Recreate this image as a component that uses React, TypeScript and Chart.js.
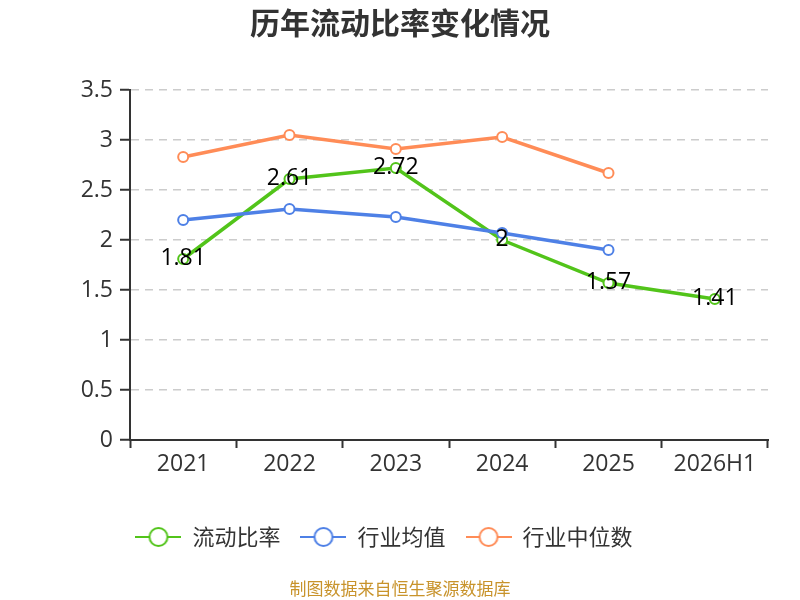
import React, { useEffect, useRef } from "react";
import { Chart, registerables } from "chart.js";

Chart.register(...registerables);

const categories = ["2021", "2022", "2023", "2024", "2025", "2026H1"];
const currentRatio = [1.81, 2.61, 2.72, 2, 1.57, 1.41];
const currentRatioLabels = ["1.81", "2.61", "2.72", "2", "1.57", "1.41"];
const industryMean = [2.2, 2.31, 2.23, 2.07, 1.9, null];
const industryMedian = [2.83, 3.05, 2.91, 3.03, 2.67, null];
const seriesNames = ["流动比率", "行业均值", "行业中位数"];
const seriesColors = ["#52C41A", "#4E80E6", "#FF8C57"];
const yTicks = { min: 0, max: 3.5, step: 0.5 };
const titleText = "历年流动比率变化情况";
const footerText = "制图数据来自恒生聚源数据库";

const FONT = "'Open Sans', 'Noto Sans CJK SC', sans-serif";
const CJK_FONT = "'Noto Sans CJK SC', 'Noto Sans', sans-serif";

function makeLegendIcon(color: string): HTMLCanvasElement {
  const c = document.createElement("canvas");
  c.width = 46;
  c.height = 22;
  const ctx = c.getContext("2d")!;
  ctx.strokeStyle = color;
  ctx.lineWidth = 2;
  ctx.beginPath();
  ctx.moveTo(0, 11);
  ctx.lineTo(46, 11);
  ctx.stroke();
  ctx.beginPath();
  ctx.arc(23, 11, 9, 0, Math.PI * 2);
  ctx.fillStyle = "#ffffff";
  ctx.fill();
  ctx.stroke();
  return c;
}

const valueLabelPlugin = {
  id: "valueLabels",
  afterDatasetsDraw(chart: any) {
    const meta = chart.getDatasetMeta(0);
    const ctx = chart.ctx;
    ctx.save();
    ctx.font = `23px ${FONT}`;
    ctx.fillStyle = "#000000";
    ctx.textAlign = "center";
    ctx.textBaseline = "middle";
    meta.data.forEach((pt: any, i: number) => {
      ctx.fillText(currentRatioLabels[i], pt.x, pt.y - 1);
    });
    ctx.restore();
  },
};

const textPlugin = {
  id: "titleFooter",
  afterDraw(chart: any) {
    const ctx = chart.ctx;
    ctx.save();
    ctx.textAlign = "center";
    ctx.textBaseline = "middle";
    ctx.font = `bold 30px ${CJK_FONT}`;
    ctx.fillStyle = "#333333";
    ctx.fillText(titleText, chart.width / 2, 23);
    ctx.font = `17px ${CJK_FONT}`;
    ctx.fillStyle = "#C8932B";
    ctx.fillText(footerText, chart.width / 2, 589);
    ctx.restore();
  },
};

export default function App() {
  const ref = useRef<HTMLCanvasElement>(null);

  useEffect(() => {
    if (!ref.current) return;
    const icons = seriesColors.map(makeLegendIcon);
    const makeDs = (i: number, data: (number | null)[], order: number) => ({
      label: seriesNames[i],
      data,
      borderColor: seriesColors[i],
      backgroundColor: "#ffffff",
      pointBackgroundColor: "#ffffff",
      pointBorderColor: seriesColors[i],
      pointBorderWidth: 2,
      pointRadius: 5,
      borderWidth: 3.5,
      tension: 0,
      spanGaps: false,
      order,
    });
    const chart = new Chart(ref.current, {
      type: "line",
      data: {
        labels: categories,
        datasets: [
          makeDs(0, currentRatio, 2),
          makeDs(1, industryMean, 1),
          makeDs(2, industryMedian, 0),
        ],
      },
      plugins: [valueLabelPlugin, textPlugin],
      options: {
        responsive: false,
        animation: false,
        devicePixelRatio: 1,
        layout: { padding: { left: 0, right: 32, top: 90, bottom: 42 } },
        font: { family: FONT },
        plugins: {
          tooltip: { enabled: false },
          title: { display: false },
          legend: {
            display: true,
            position: "bottom",
            labels: {
              usePointStyle: true,
              pointStyleWidth: 46,
              padding: 20,
              color: "#333333",
              font: { family: CJK_FONT, size: 22 },
              generateLabels: () =>
                seriesNames.map((name, i) => ({
                  text: name,
                  datasetIndex: i,
                  pointStyle: icons[i] as any,
                  fillStyle: "#ffffff",
                  strokeStyle: seriesColors[i],
                  lineWidth: 0,
                  hidden: false,
                  fontColor: "#333333",
                })),
            },
          },
        },
        scales: {
          x: {
            type: "category",
            offset: true,
            grid: {
              offset: true,
              drawOnChartArea: false,
              drawTicks: true,
              tickLength: 8,
              tickColor: "#333333",
              tickWidth: 2,
            },
            border: { display: true, color: "#333333", width: 2 },
            ticks: {
              color: "#333333",
              font: { family: FONT, size: 23 },
              padding: 3,
              maxRotation: 0,
              autoSkip: false,
            },
            afterFit: (scale: any) => {
              scale.height = 66;
            },
          },
          y: {
            min: yTicks.min,
            max: yTicks.max,
            grid: {
              color: "#cccccc",
              lineWidth: 1.5,
              drawTicks: true,
              tickLength: 10,
              tickColor: "#333333",
              tickWidth: 2,
              tickBorderDash: [],
            },
            border: { display: true, color: "#333333", width: 2, dash: [8, 6] },
            ticks: {
              stepSize: yTicks.step,
              color: "#333333",
              font: { family: FONT, size: 23 },
              padding: 7,
              callback: (v: any) => String(Number(v)),
            },
            afterFit: (scale: any) => {
              scale.width = 130;
            },
          },
        },
      } as any,
    });
    return () => chart.destroy();
  }, []);

  return (
    <div style={{ position: "absolute", left: 0, top: 0, width: 800, height: 600, background: "#fff" }}>
      <canvas ref={ref} width={800} height={600} style={{ width: 800, height: 600 }} />
    </div>
  );
}
